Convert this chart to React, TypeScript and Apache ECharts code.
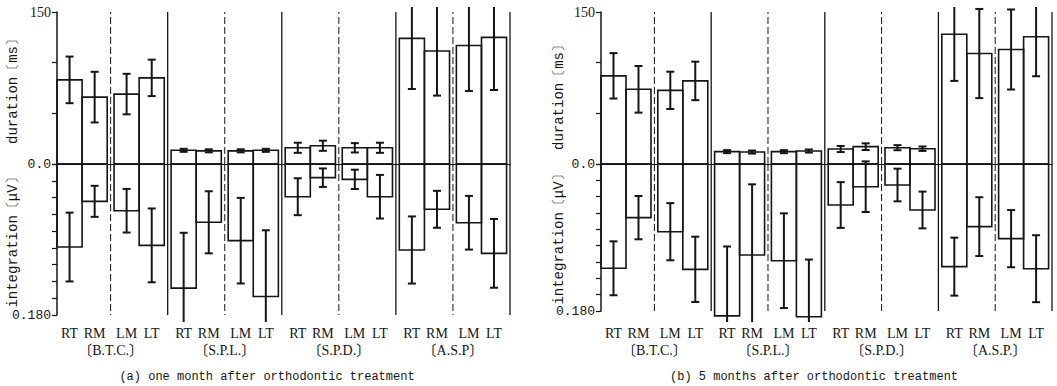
import React, { useEffect, useRef } from "react";
import * as echarts from "echarts";

// ---------- data ----------
const categories = ["RT", "RM", "LM", "LT"];
const groupsA = ["B.T.C.", "S.P.L.", "S.P.D.", "A.S.P"];
const groupsB = ["B.T.C.", "S.P.L.", "S.P.D.", "A.S.P."];

// (a) one month after
const durationA = [83, 66, 69, 85, 13.5, 13, 13, 13.5, 16, 18, 16, 16, 124, 111.5, 117, 125];
const durationSdA = [23, 25, 20, 18, 1.5, 1.5, 1.5, 1.5, 5, 5, 4.6, 5, 50, 44, 45, 52];
const integrationA = [0.099, 0.0445, 0.0557, 0.097, 0.148, 0.0695, 0.0914, 0.158, 0.039, 0.0163, 0.0183, 0.039, 0.1025, 0.054, 0.07, 0.1065];
const integrationSdA = [0.041, 0.0185, 0.026, 0.044, 0.066, 0.037, 0.051, 0.079, 0.022, 0.011, 0.0115, 0.026, 0.04, 0.022, 0.032, 0.041];

// (b) 5 months after
const durationB = [87, 73.7, 72.7, 82, 12.2, 11.8, 12.2, 12.8, 14.8, 17.1, 16.1, 15.1, 128, 109, 113, 125.6];
const durationSdB = [22.4, 23, 18.4, 19, 1.5, 1.5, 1.5, 1.5, 3, 3.3, 2.5, 2.2, 46, 44, 39.5, 39];
const integrationB = [0.1277, 0.0657, 0.0829, 0.129, 0.186, 0.1114, 0.1184, 0.187, 0.0502, 0.0278, 0.0257, 0.0563, 0.1257, 0.0767, 0.0914, 0.1282];
const integrationSdB = [0.033, 0.0265, 0.035, 0.04, 0.085, 0.0865, 0.058, 0.07, 0.028, 0.031, 0.02, 0.0225, 0.0355, 0.036, 0.035, 0.041];

const durationTicks = { min: 0, max: 150, interval: 50 };
const integrationTicks = { min: 0, max: 0.18, interval: 0.02 };
const separators = [0.5, 1, 1.5, 2, 2.5, 3, 3.5, 4];

// ---------- layout ----------
const OFF = [0.03, 0.25, 0.53, 0.75];
const BW = 0.22;
const INK = "#151515";
const SERIF = '"Liberation Serif", "Times New Roman", "Noto Sans CJK JP", serif';
const MONO = '"Liberation Mono", "DejaVu Sans Mono", monospace';
const CLIP_TOP = 7;
const CLIP_BOTTOM = 322;
const LABEL_Y = 333;
const GROUP_Y = 350;

function makeBarRender(groups: string[] | null) {
  return (params: any, api: any) => {
    const i = api.value(0);
    const v = api.value(1);
    const sd = api.value(2);
    const g = Math.floor(i / 4);
    const b = i % 4;
    const x0 = g + OFF[b];
    const x1 = x0 + BW;
    const xc = (x0 + x1) / 2;
    const p0 = api.coord([x0, 0]);
    const p1 = api.coord([x1, v]);
    const children: any[] = [];
    children.push({
      type: "rect",
      shape: {
        x: p0[0],
        y: Math.min(p0[1], p1[1]),
        width: p1[0] - p0[0],
        height: Math.abs(p1[1] - p0[1]),
      },
      style: { fill: "none", stroke: INK, lineWidth: 1.6 },
    });
    const pa = api.coord([xc, v - sd]);
    const pb = api.coord([xc, v + sd]);
    let yt = Math.min(pa[1], pb[1]);
    let yb = Math.max(pa[1], pb[1]);
    const capTop = yt >= CLIP_TOP;
    const capBot = yb <= CLIP_BOTTOM;
    yt = Math.max(yt, CLIP_TOP);
    yb = Math.min(yb, CLIP_BOTTOM);
    const cx = pa[0];
    children.push({
      type: "line",
      shape: { x1: cx, y1: yt, x2: cx, y2: yb },
      style: { stroke: INK, lineWidth: 2 },
    });
    if (capTop)
      children.push({
        type: "line",
        shape: { x1: cx - 4, y1: yt, x2: cx + 4, y2: yt },
        style: { stroke: INK, lineWidth: 2 },
      });
    if (capBot)
      children.push({
        type: "line",
        shape: { x1: cx - 4, y1: yb, x2: cx + 4, y2: yb },
        style: { stroke: INK, lineWidth: 2 },
      });
    if (groups) {
      children.push({
        type: "text",
        x: cx,
        y: LABEL_Y,
        style: {
          text: categories[b],
          font: `14px ${SERIF}`,
          fill: INK,
          textAlign: "center",
          textVerticalAlign: "middle",
        },
      });
      if (b === 0) {
        const gc = api.coord([g + 0.5, 0]);
        children.push({
          type: "text",
          x: gc[0],
          y: GROUP_Y,
          style: {
            text: "〔" + groups[g] + "〕",
            font: `14px ${SERIF}`,
            fill: INK,
            textAlign: "center",
            textVerticalAlign: "middle",
          },
        });
      }
    }
    return { type: "group", children };
  };
}

function makeSepRender(top: number) {
  return (params: any, api: any) => {
    const x = api.value(0);
    const dashed = api.value(1) === 1;
    const a = api.coord([x, 0]);
    const b = api.coord([x, top]);
    return {
      type: "line",
      shape: { x1: a[0], y1: a[1], x2: b[0], y2: b[1] },
      style: {
        stroke: INK,
        lineWidth: dashed ? 1 : 1.3,
        lineDash: dashed ? [7, 3] : null,
      },
    };
  };
}

function panelSeries(
  gUp: number,
  gDown: number,
  dur: number[],
  durSd: number[],
  integ: number[],
  integSd: number[],
  groups: string[]
) {
  const sepData = separators.map((s) => [s, Number.isInteger(s) ? 0 : 1]);
  return [
    {
      type: "custom",
      xAxisIndex: gUp,
      yAxisIndex: gUp,
      data: dur.map((v, i) => [i, v, durSd[i]]),
      renderItem: makeBarRender(null),
      clip: false,
      silent: true,
    },
    {
      type: "custom",
      xAxisIndex: gDown,
      yAxisIndex: gDown,
      data: integ.map((v, i) => [i, v, integSd[i]]),
      renderItem: makeBarRender(groups),
      clip: false,
      silent: true,
    },
    {
      type: "custom",
      xAxisIndex: gUp,
      yAxisIndex: gUp,
      data: sepData,
      renderItem: makeSepRender(durationTicks.max),
      clip: false,
      silent: true,
    },
    {
      type: "custom",
      xAxisIndex: gDown,
      yAxisIndex: gDown,
      data: sepData,
      renderItem: makeSepRender(integrationTicks.max),
      clip: false,
      silent: true,
    },
  ];
}

function xAxisFor(gridIndex: number, showLine: boolean) {
  return {
    type: "value",
    gridIndex,
    min: 0.03,
    max: 4,
    position: "bottom",
    axisLine: { show: showLine, onZero: false, lineStyle: { color: INK, width: 1 } },
    axisTick: { show: false },
    axisLabel: { show: false },
    splitLine: { show: false },
  };
}

function yUp(gridIndex: number) {
  return {
    type: "value",
    gridIndex,
    ...durationTicks,
    axisLine: { show: true, lineStyle: { color: INK, width: 1.5 } },
    axisTick: { show: true, length: 5, lineStyle: { color: INK, width: 1.2 } },
    axisLabel: {
      margin: 6,
      color: INK,
      fontFamily: SERIF,
      fontSize: 14,
      formatter: (v: number) => (v === 150 ? "150" : ""),
    },
    splitLine: { show: false },
  };
}

function yDown(gridIndex: number) {
  return {
    type: "value",
    gridIndex,
    ...integrationTicks,
    inverse: true,
    axisLine: { show: true, lineStyle: { color: INK, width: 1.5 } },
    axisTick: { show: true, length: 5, lineStyle: { color: INK, width: 1.2 } },
    axisLabel: {
      margin: 6,
      color: INK,
      fontFamily: MONO,
      fontSize: 13,
      formatter: (v: number) =>
        Math.abs(v) < 1e-9 ? "0.0" : Math.abs(v - 0.18) < 1e-9 ? "0.180" : "",
    },
    splitLine: { show: false },
  };
}

function vText(text: string, x: number, y: number) {
  return {
    type: "text",
    x,
    y,
    rotation: Math.PI / 2,
    style: {
      text,
      font: `14px ${MONO}`,
      fill: INK,
      textAlign: "center",
      textVerticalAlign: "middle",
    },
  };
}

function hText(text: string, x: number, y: number) {
  return {
    type: "text",
    x,
    y,
    style: {
      text,
      font: `12px ${MONO}`,
      fill: INK,
      textAlign: "center",
      textVerticalAlign: "middle",
    },
  };
}

export default function App() {
  const ref = useRef<HTMLDivElement>(null);
  useEffect(() => {
    document.body.style.margin = "0";
    if (!ref.current) return;
    const chart = echarts.init(ref.current, null, { renderer: "svg" });
    const option: any = {
      animation: false,
      backgroundColor: "#ffffff",
      grid: [
        { left: 57, width: 453, top: 12, height: 152 },
        { left: 57, width: 453, top: 164, height: 151 },
        { left: 601, width: 451, top: 12, height: 152 },
        { left: 601, width: 451, top: 164, height: 147 },
      ],
      xAxis: [xAxisFor(0, true), xAxisFor(1, false), xAxisFor(2, true), xAxisFor(3, false)],
      yAxis: [yUp(0), yDown(1), yUp(2), yDown(3)],
      series: [
        ...panelSeries(0, 1, durationA, durationSdA, integrationA, integrationSdA, groupsA),
        ...panelSeries(2, 3, durationB, durationSdB, integrationB, integrationSdB, groupsB),
      ],
      graphic: [
        vText("duration〔ms〕", 13, 88),
        vText("integration〔μV〕", 13, 239),
        vText("duration〔ms〕", 559, 94),
        vText("integration〔μV〕", 559, 236),
        hText("(a) one month after orthodontic treatment", 267, 377),
        hText("(b) 5 months after orthodontic treatment", 814, 377),
      ],
    };
    chart.setOption(option);
    return () => chart.dispose();
  }, []);
  return <div ref={ref} style={{ width: 1057, height: 386 }} />;
}
